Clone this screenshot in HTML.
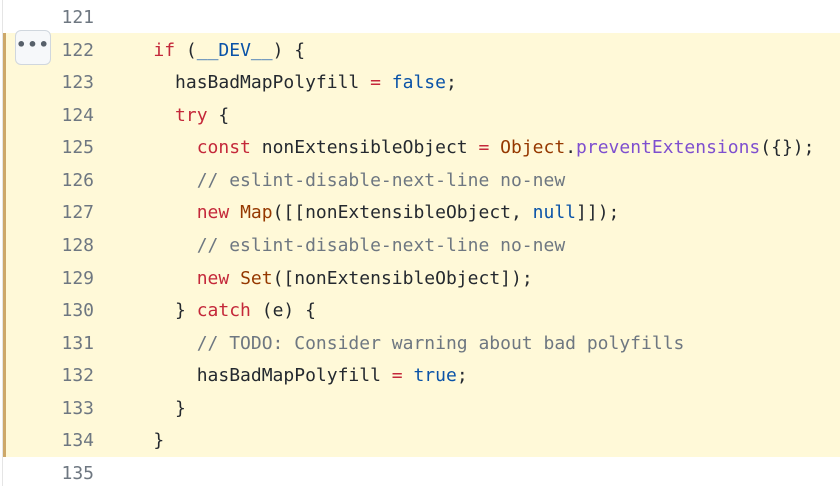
<!DOCTYPE html>
<html><head><style>
body{margin:0;width:840px;height:486px;background:#fff;position:relative;overflow:hidden;font-family:"DejaVu Sans Mono","Liberation Mono",monospace;font-size:18px;color:#24292f}
.hl{position:absolute;left:3px;top:33px;width:837px;height:424px;background:#fff9d8;border-left:3px solid #cda869}
.vl{position:absolute;left:2px;top:0;width:1px;height:486px;background:#e5e5e5}
.ln{position:absolute;left:40px;width:54px;text-align:right;color:#6e7781;line-height:32px;white-space:pre;margin-top:1px}
.cd{position:absolute;left:110px;line-height:32px;white-space:pre;margin-top:1px}
.k{color:#c4283a}.b{color:#0a53a8}.f{color:#7e4fcf}.c{color:#6e7781}.o{color:#953800}
.btn{position:absolute;left:15px;top:30px;width:36px;height:35px;background:#f6f8fa;border:1px solid #d0d7de;border-radius:6px;box-sizing:border-box;text-align:center;line-height:28px;color:#57606a;font-size:16px;font-weight:bold;letter-spacing:1px;font-family:"DejaVu Sans",sans-serif}
</style></head><body>
<div class="vl"></div>
<div class="hl"></div>
<div class="btn">•••</div>
<div class="ln" style="top:1px">121</div>
<div class="ln" style="top:33.6px">122</div>
<div class="ln" style="top:66.1px">123</div>
<div class="ln" style="top:98.7px">124</div>
<div class="ln" style="top:131.3px">125</div>
<div class="ln" style="top:163.9px">126</div>
<div class="ln" style="top:196.4px">127</div>
<div class="ln" style="top:229px">128</div>
<div class="ln" style="top:261.6px">129</div>
<div class="ln" style="top:294.1px">130</div>
<div class="ln" style="top:326.7px">131</div>
<div class="ln" style="top:359.3px">132</div>
<div class="ln" style="top:391.9px">133</div>
<div class="ln" style="top:424.4px">134</div>
<div class="ln" style="top:457px">135</div>
<div class="cd" style="top:33.6px">    <span class="k">if</span> (<span class="b">__DEV__</span>) {</div>
<div class="cd" style="top:66.1px">      hasBadMapPolyfill <span class="k">=</span> <span class="b">false</span>;</div>
<div class="cd" style="top:98.7px">      <span class="k">try</span> {</div>
<div class="cd" style="top:131.3px">        <span class="k">const</span> nonExtensibleObject <span class="k">=</span> <span class="o">Object</span>.<span class="f">preventExtensions</span>({});</div>
<div class="cd" style="top:163.9px">        <span class="c">// eslint-disable-next-line no-new</span></div>
<div class="cd" style="top:196.4px">        <span class="k">new</span> <span class="o">Map</span>([[nonExtensibleObject, <span class="b">null</span>]]);</div>
<div class="cd" style="top:229px">        <span class="c">// eslint-disable-next-line no-new</span></div>
<div class="cd" style="top:261.6px">        <span class="k">new</span> <span class="o">Set</span>([nonExtensibleObject]);</div>
<div class="cd" style="top:294.1px">      } <span class="k">catch</span> (e) {</div>
<div class="cd" style="top:326.7px">        <span class="c">// TODO: Consider warning about bad polyfills</span></div>
<div class="cd" style="top:359.3px">        hasBadMapPolyfill <span class="k">=</span> <span class="b">true</span>;</div>
<div class="cd" style="top:391.9px">      }</div>
<div class="cd" style="top:424.4px">    }</div>
</body></html>
